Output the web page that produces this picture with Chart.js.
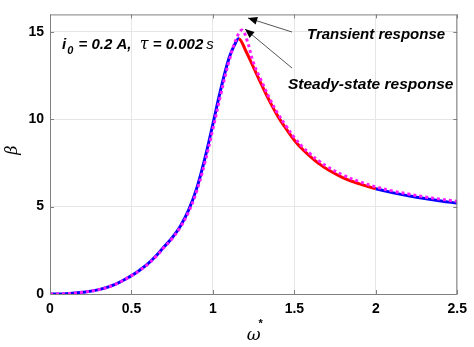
<!DOCTYPE html>
<html>
<head>
<meta charset="utf-8">
<script src="https://cdn.jsdelivr.net/npm/chart.js@4/dist/chart.umd.min.js"></script>
<style>
  html, body { margin: 0; padding: 0; background: #fff; }
  #wrap { width: 474px; height: 347px; }
</style>
</head>
<body>
<div id="wrap"><canvas id="myChart" width="474" height="347"></canvas></div>
<script>
// data
const omegaSteady = [0, 0.1, 0.2, 0.3, 0.4, 0.5, 0.55, 0.6, 0.65, 0.7, 0.75, 0.8, 0.85, 0.9, 0.95, 1.0, 1.05, 1.1, 1.13, 1.16, 1.2, 1.25, 1.3, 1.35, 1.4, 1.45, 1.5, 1.55, 1.6, 1.65, 1.7, 1.8, 1.9, 2.0, 2.1, 2.2, 2.3, 2.4, 2.5];
const betaSteady = [0, 0.02, 0.1, 0.25, 0.55, 1.05, 1.36, 1.72, 2.17, 2.7, 3.22, 3.88, 4.78, 6.03, 7.73, 9.73, 11.78, 13.53, 14.2, 14.6, 13.95, 12.95, 11.95, 11.0, 10.15, 9.45, 8.8, 8.28, 7.85, 7.47, 7.15, 6.65, 6.3, 6.02, 5.8, 5.62, 5.46, 5.32, 5.2];

const omegaTrans = [0, 0.1, 0.2, 0.3, 0.4, 0.5, 0.55, 0.6, 0.65, 0.7, 0.75, 0.8, 0.85, 0.9, 0.95, 1.0, 1.05, 1.1, 1.15, 1.18, 1.21, 1.25, 1.3, 1.35, 1.4, 1.45, 1.5, 1.55, 1.6, 1.65, 1.7, 1.8, 1.9, 2.0, 2.1, 2.2, 2.3, 2.4, 2.5];
const betaTrans = [0, 0.02, 0.1, 0.25, 0.55, 1.05, 1.34, 1.7, 2.14, 2.66, 3.17, 3.82, 4.68, 5.88, 7.5, 9.45, 11.5, 13.35, 14.75, 15.1, 14.5, 13.2, 12.15, 11.15, 10.3, 9.6, 8.95, 8.42, 8.0, 7.62, 7.3, 6.8, 6.43, 6.13, 5.9, 5.72, 5.56, 5.42, 5.3];

// steady-state curve is drawn red between these omegas, blue elsewhere
const redFrom = 1.16;
const redTo = 2.0;

const xTicks = [0, 0.5, 1, 1.5, 2, 2.5];
const yTicks = [0, 5, 10, 15];

function toPoints(xs, ys) {
  return xs.map(function (x, i) { return { x: x, y: ys[i] }; });
}

const FONT = "'Liberation Sans', Arial, sans-serif";

// frame, inner ticks, titles and annotations
const decorPlugin = {
  id: "decor",
  afterDatasetsDraw: function (chart) {
    const ctx = chart.ctx;
    const a = chart.chartArea;
    const xs = chart.scales.x;
    const ys = chart.scales.y;
    ctx.save();

    // box
    ctx.strokeStyle = "#808080";
    ctx.lineWidth = 1;
    ctx.strokeRect(a.left + 0.5, a.top + 0.5, a.right - a.left - 1, a.bottom - a.top);

    // inward tick marks
    ctx.beginPath();
    xTicks.forEach(function (v) {
      const px = Math.round(xs.getPixelForValue(v)) + 0.5;
      ctx.moveTo(px, a.bottom); ctx.lineTo(px, a.bottom - 4);
      ctx.moveTo(px, a.top); ctx.lineTo(px, a.top + 4);
    });
    yTicks.forEach(function (v) {
      const py = Math.round(ys.getPixelForValue(v)) + 0.5;
      ctx.moveTo(a.left, py); ctx.lineTo(a.left + 4, py);
      ctx.moveTo(a.right, py); ctx.lineTo(a.right - 4, py);
    });
    ctx.stroke();

    ctx.fillStyle = "#000";
    ctx.textBaseline = "alphabetic";

    // axis titles
    ctx.font = "italic 17px 'DejaVu Serif', serif";
    ctx.textAlign = "center";
    const cx = (a.left + a.right) / 2;
    ctx.fillText("\u03c9", cx, 340);
    ctx.font = "bold 11px " + FONT;
    ctx.fillText("*", cx + 7, 327);

    ctx.save();
    ctx.translate(17, 150);
    ctx.rotate(-Math.PI / 2);
    ctx.font = "italic 16px 'DejaVu Serif', serif";
    ctx.fillText("\u03b2", 0, 0);
    ctx.restore();

    // parameter label
    ctx.textAlign = "left";
    let x = 62;
    const y = 49;
    ctx.font = "bold italic 15px " + FONT;
    ctx.fillText("i", x, y); x += ctx.measureText("i").width + 1;
    ctx.font = "bold italic 11px " + FONT;
    ctx.fillText("0", x, y + 5); x += ctx.measureText("0").width + 1;
    ctx.font = "bold italic 15px " + FONT;
    let s = " = 0.2 A,  ";
    ctx.fillText(s, x, y); x += ctx.measureText(s).width;
    ctx.font = "italic 16px 'DejaVu Serif', serif";
    ctx.fillText("\u03c4", x, y); x += ctx.measureText("\u03c4").width;
    ctx.font = "bold italic 15px " + FONT;
    s = " = 0.002";
    ctx.fillText(s, x, y); x += ctx.measureText(s).width + 3;
    ctx.font = "italic 15px " + FONT;
    ctx.fillText("s", x, y);

    // response labels
    ctx.font = "bold italic 15px " + FONT;
    ctx.fillText("Transient response", 307, 39);
    ctx.font = "bold italic 15.5px " + FONT;
    ctx.fillText("Steady-state response", 288, 89);

    // arrows
    function arrow(x1, y1, x2, y2) {
      ctx.strokeStyle = "#555";
      ctx.lineWidth = 1;
      ctx.beginPath();
      ctx.moveTo(x1, y1); ctx.lineTo(x2, y2);
      ctx.stroke();
      const ang = Math.atan2(y2 - y1, x2 - x1);
      const len = 10, w = 0.4;
      ctx.fillStyle = "#000";
      ctx.beginPath();
      ctx.moveTo(x2, y2);
      ctx.lineTo(x2 - len * Math.cos(ang - w), y2 - len * Math.sin(ang - w));
      ctx.lineTo(x2 - len * Math.cos(ang + w), y2 - len * Math.sin(ang + w));
      ctx.closePath();
      ctx.fill();
    }
    arrow(292, 32, 248, 18);
    arrow(292, 68, 245, 29);

    ctx.restore();
  }
};

const ctx = document.getElementById("myChart").getContext("2d");
const myChart = new Chart(ctx, {
  type: "scatter",
  data: {
    datasets: [
      {
        label: "Transient response",
        data: toPoints(omegaTrans, betaTrans),
        showLine: true,
        borderColor: "#ff1aff",
        borderWidth: 3,
        borderDash: [3, 3],
        pointRadius: 0,
        tension: 0.4,
      },
      {
        label: "Steady-state response",
        data: toPoints(omegaSteady, betaSteady),
        showLine: true,
        borderColor: "#0000ff",
        borderWidth: 3,
        pointRadius: 0,
        tension: 0.4,
        segment: {
          borderColor: function (c) {
            const x0 = c.p0.parsed.x;
            return (x0 >= redFrom && x0 < redTo) ? "#ff0000" : "#0000ff";
          },
        },
      },
    ],
  },
  options: {
    responsive: false,
    animation: false,
    events: [],
    layout: {
      padding: { left: 0, right: 10, top: 1, bottom: 0 },
    },
    scales: {
      x: {
        type: "linear",
        min: 0,
        max: 2.5,
        afterBuildTicks: function (axis) {
          axis.ticks = xTicks.map(function (v) { return { value: v }; });
        },
        afterFit: function (axis) { axis.height = 53; },
        grid: { color: "#e6e6e6", drawTicks: false },
        border: { display: false },
        ticks: {
          color: "#000",
          padding: 7,
          maxRotation: 0,
          callback: function (value) { return String(value); },
          font: { family: FONT, size: 14, weight: "bold" },
        },
      },
      y: {
        type: "linear",
        min: 0,
        max: 16,
        afterBuildTicks: function (axis) {
          axis.ticks = yTicks.map(function (v) { return { value: v }; });
        },
        afterFit: function (axis) { axis.width = 50; },
        grid: { color: "#e6e6e6", drawTicks: false },
        border: { display: false },
        ticks: {
          color: "#000",
          padding: 6,
          callback: function (value) { return String(value); },
          font: { family: FONT, size: 14, weight: "bold" },
        },
      },
    },
    plugins: {
      legend: { display: false },
      tooltip: { enabled: false },
    },
  },
  plugins: [decorPlugin],
});
</script>
</body>
</html>
